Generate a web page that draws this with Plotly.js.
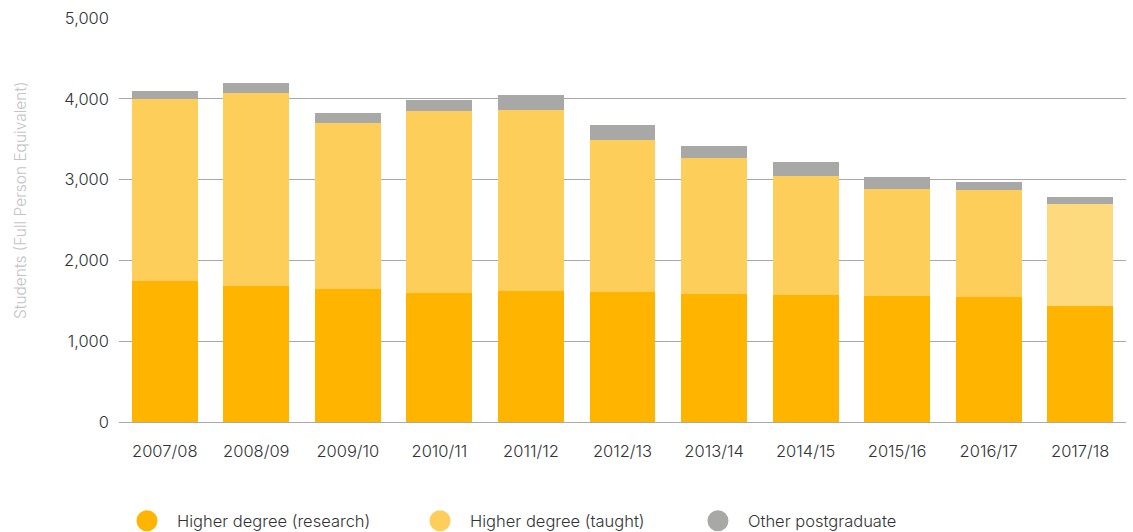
<!DOCTYPE html>
<html>
<head>
<meta charset="utf-8">
<script src="https://cdn.plot.ly/plotly-3.0.1.min.js"></script>
<style>html,body{margin:0;padding:0;background:#fff;}#chart{width:1133px;height:532px;}</style>
</head>
<body>
<div id="chart"></div>
<script>
const years = ["2007/08","2008/09","2009/10","2010/11","2011/12","2012/13","2013/14","2014/15","2015/16","2016/17","2017/18"];
const research = [1750,1685,1645,1600,1620,1610,1585,1570,1560,1545,1435];
const taught = [2245,2385,2055,2250,2240,1880,1680,1475,1325,1325,1265];
const otherPG = [100,125,125,135,185,185,150,175,150,100,85];
const seriesNames = ["Higher degree (research)","Higher degree (taught)","Other postgraduate"];
const yTicks = [0,1000,2000,3000,4000,5000];
const yTickText = ["0","1,000","2,000","3,000","4,000","5,000"];
const yTitle = "Students (Full Person Equivalent)";

const cResearch = "#FFB400";
const cTaught = "#FECE5A";
const cTaughtLast = "#FEDA7E";
const cOther = "#A8A8A6";
const taughtColors = years.map((y,i)=> i===years.length-1 ? cTaughtLast : cTaught);

const font = "Inter, 'Open Sans', sans-serif";
function legendTrace(name, color, lg){
  return {type:"scatter", mode:"markers", x:[null], y:[null], name:name, legend:lg,
    marker:{color:color, size:16, symbol:"circle", line:{color:color,width:5}}};
}
const data = [
  {type:"bar", x:years, y:research, name:seriesNames[0], marker:{color:cResearch}, showlegend:false},
  {type:"bar", x:years, y:taught, name:seriesNames[1], marker:{color:taughtColors}, showlegend:false},
  {type:"bar", x:years, y:otherPG, name:seriesNames[2], marker:{color:cOther}, showlegend:false},
  legendTrace(seriesNames[0], cResearch, "legend"),
  legendTrace(seriesNames[1], cTaught, "legend2"),
  legendTrace(seriesNames[2], cOther, "legend3")
];

const legBase = {orientation:"h", xref:"paper", yref:"paper", xanchor:"left", y:-0.245, yanchor:"middle",
  font:{size:16.5, color:"#333", weight:300}, itemwidth:50, bgcolor:"rgba(0,0,0,0)"};

const layout = {
  width:1133, height:532,
  margin:{l:119, r:7, t:18, b:110, autoexpand:false},
  barmode:"stack",
  bargap:0.28,
  paper_bgcolor:"#fff", plot_bgcolor:"#fff",
  font:{family:font, size:16.5, color:"#333", weight:300},
  xaxis:{
    type:"category", showgrid:false, zeroline:false, showline:false, automargin:false,
    ticks:"", tickfont:{size:16.5, color:"#333", weight:300}, ticklabelstandoff:17
  },
  yaxis:{
    range:[0,5000], tickvals:yTicks, ticktext:yTickText, automargin:false,
    showgrid:true, gridcolor:"#A9A9A9", gridwidth:1,
    zeroline:true, zerolinecolor:"#A9A9A9", zerolinewidth:1,
    showline:false, ticks:"", ticklabelstandoff:9,
    tickfont:{size:16.5, color:"#333", weight:300}
  },
  annotations:[{text:yTitle, xref:"paper", yref:"paper", x:-0.0983, y:0.547,
    xanchor:"center", yanchor:"middle", textangle:-90, showarrow:false,
    font:{size:15.5, color:"#C4C4C4", weight:300}}],
  legend:Object.assign({}, legBase, {x:-0.002}),
  legend2:Object.assign({}, legBase, {x:0.289}),
  legend3:Object.assign({}, legBase, {x:0.565}),
  showlegend:true
};
Plotly.newPlot("chart", data, layout, {displayModeBar:false, staticPlot:true});
</script>
</body>
</html>
